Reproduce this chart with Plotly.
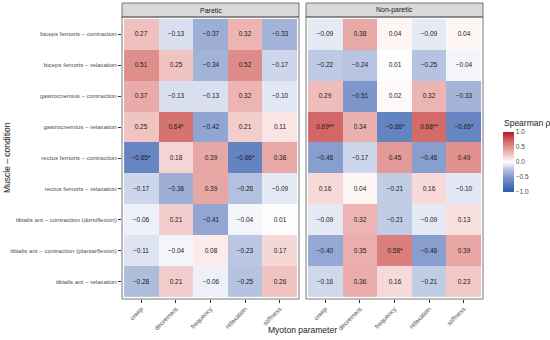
import plotly.graph_objects as go

params = ["creep", "decrement", "frequency", "relaxation", "stiffness"]
rows = [
    "biceps femoris – contraction",
    "biceps femoris – relaxation",
    "gastrocnemius – contraction",
    "gastrocnemius – relaxation",
    "rectus femoris – contraction",
    "rectus femoris – relaxation",
    "tibialis ant – contraction (dorsiflexion)",
    "tibialis ant – contraction (plantarflexion)",
    "tibialis ant – relaxation",
]
panels = ["Paretic", "Non-paretic"]

paretic = [
    [0.27, -0.13, -0.37, 0.32, -0.33],
    [0.51, 0.25, -0.34, 0.52, -0.17],
    [0.37, -0.13, -0.13, 0.32, -0.10],
    [0.25, 0.64, -0.42, 0.21, 0.11],
    [-0.65, 0.18, 0.39, -0.66, 0.38],
    [-0.17, -0.36, 0.39, -0.26, -0.09],
    [-0.06, 0.21, -0.41, -0.04, 0.01],
    [-0.11, -0.04, 0.08, -0.23, 0.17],
    [-0.28, 0.21, -0.06, -0.25, 0.26],
]
paretic_sig = [
    ["", "", "", "", ""],
    ["", "", "", "", ""],
    ["", "", "", "", ""],
    ["", "*", "", "", ""],
    ["*", "", "", "*", ""],
    ["", "", "", "", ""],
    ["", "", "", "", ""],
    ["", "", "", "", ""],
    ["", "", "", "", ""],
]
nonparetic = [
    [-0.09, 0.38, 0.04, -0.09, 0.04],
    [-0.22, -0.24, 0.01, -0.25, -0.04],
    [0.29, -0.51, 0.02, 0.32, -0.33],
    [0.69, 0.34, -0.66, 0.68, -0.65],
    [-0.46, -0.17, 0.45, -0.46, 0.49],
    [0.16, 0.04, -0.21, 0.16, -0.10],
    [-0.09, 0.32, -0.21, -0.09, 0.13],
    [-0.40, 0.35, 0.58, -0.46, 0.39],
    [-0.16, 0.36, 0.16, -0.21, 0.23],
]
nonparetic_sig = [
    ["", "", "", "", ""],
    ["", "", "", "", ""],
    ["", "", "", "", ""],
    ["**", "", "*", "**", "*"],
    ["", "", "", "", ""],
    ["", "", "", "", ""],
    ["", "", "", "", ""],
    ["", "", "*", "", ""],
    ["", "", "", "", ""],
]
cbar_vals = [1.0, 0.5, 0.0, -0.5, -1.0]


def fmt(v, s, d=2):
    t = f"{abs(v):.{d}f}"
    return ("−" + t if v < 0 else t) + s


def labels(vals, sig):
    return [[fmt(v, s) for v, s in zip(rv, rs)] for rv, rs in zip(vals, sig)]


colorscale = [
    [0.0, "#2E5EAA"],
    [0.125, "#5479BC"],
    [0.25, "#8097CB"],
    [0.375, "#B5C2E0"],
    [0.5, "#FFFFFF"],
    [0.625, "#F1C4C2"],
    [0.75, "#E0908D"],
    [0.875, "#CC5C5B"],
    [1.0, "#B2182B"],
]

FONT = "Liberation Sans, Arial, sans-serif"
W, H = 550, 340

def px(x):
    return x / W

def py(y):
    return 1 - y / H

p1 = (122, 299)
p2 = (306, 483)
top, bottom = 17, 299
strip_top = 3

fig = go.Figure()
for i, (vals, sig) in enumerate([(paretic, paretic_sig), (nonparetic, nonparetic_sig)]):
    fig.add_trace(go.Heatmap(
        z=vals, x=params, y=rows, text=labels(vals, sig),
        texttemplate="%{text}", textfont=dict(size=6.5, color="#1a1a1a", family=FONT),
        colorscale=colorscale, zmin=-1, zmax=1,
        xaxis="x" if i == 0 else "x2", yaxis="y",
        showscale=(i == 0), hoverinfo="skip",
        colorbar=dict(
            tickvals=cbar_vals, ticktext=[fmt(v, "", 1) for v in cbar_vals],
            tickfont=dict(size=6.5, family=FONT, color="#4d4d4d"),
            ticks="", outlinewidth=0, thickness=11,
            lenmode="pixels", len=60, x=px(503), xanchor="left",
            y=py(162), yanchor="middle", xpad=0, ypad=0,
        ),
    ))

xcommon = dict(
    range=[-0.56, 4.56], showgrid=False, zeroline=False, ticks="outside", ticklen=3,
    tickcolor="#333", tickangle=-45, tickfont=dict(size=6.3, family=FONT, color="#4d4d4d"),
    anchor="y", showline=False, automargin=False,
)
fig.update_layout(
    width=W, height=H, margin=dict(l=0, r=0, t=0, b=0, autoexpand=False),
    plot_bgcolor="white", paper_bgcolor="white",
    xaxis=dict(domain=[px(p1[0]), px(p1[1])], **xcommon),
    xaxis2=dict(domain=[px(p2[0]), px(p2[1])], **xcommon),
    yaxis=dict(domain=[py(bottom), py(top)], range=[8.56, -0.56], showgrid=False, zeroline=False,
               ticks="outside", ticklen=3, tickcolor="#333",
               tickfont=dict(size=6.15, family=FONT, color="#4d4d4d"), automargin=False),
    font=dict(family=FONT),
)

shapes = []
annotations = []
for (x0, x1), name in zip([p1, p2], panels):
    shapes.append(dict(type="rect", xref="paper", yref="paper", x0=px(x0), x1=px(x1),
                       y0=py(strip_top), y1=py(top), fillcolor="#D9D9D9",
                       line=dict(color="#555555", width=0.8)))
    shapes.append(dict(type="rect", xref="paper", yref="paper", x0=px(x0), x1=px(x1),
                       y0=py(bottom), y1=py(top), fillcolor="rgba(0,0,0,0)",
                       line=dict(color="#555555", width=0.8)))
    annotations.append(dict(text=name, xref="paper", yref="paper", x=px((x0 + x1) / 2),
                            y=py((strip_top + top) / 2), xanchor="center", yanchor="middle",
                            showarrow=False, font=dict(size=7, family=FONT, color="#1a1a1a")))
annotations.append(dict(text="Myoton parameter", xref="paper", yref="paper", x=px(302), y=py(330),
                        xanchor="center", yanchor="middle",
                        showarrow=False, font=dict(size=8.5, family=FONT, color="#1a1a1a")))
annotations.append(dict(text="Muscle – condition", xref="paper", yref="paper", x=px(7), y=py(158),
                        xanchor="center", yanchor="middle",
                        textangle=-90, showarrow=False, font=dict(size=8.5, family=FONT, color="#1a1a1a")))
annotations.append(dict(text="Spearman ρ", xref="paper", yref="paper", x=px(502), y=py(123),
                        xanchor="left", yanchor="middle",
                        showarrow=False, font=dict(size=8.5, family=FONT, color="#1a1a1a")))
fig.update_layout(shapes=shapes, annotations=annotations)

fig.write_html("out.html", config={"displayModeBar": False},
               post_script="document.body.style.margin='0';")
